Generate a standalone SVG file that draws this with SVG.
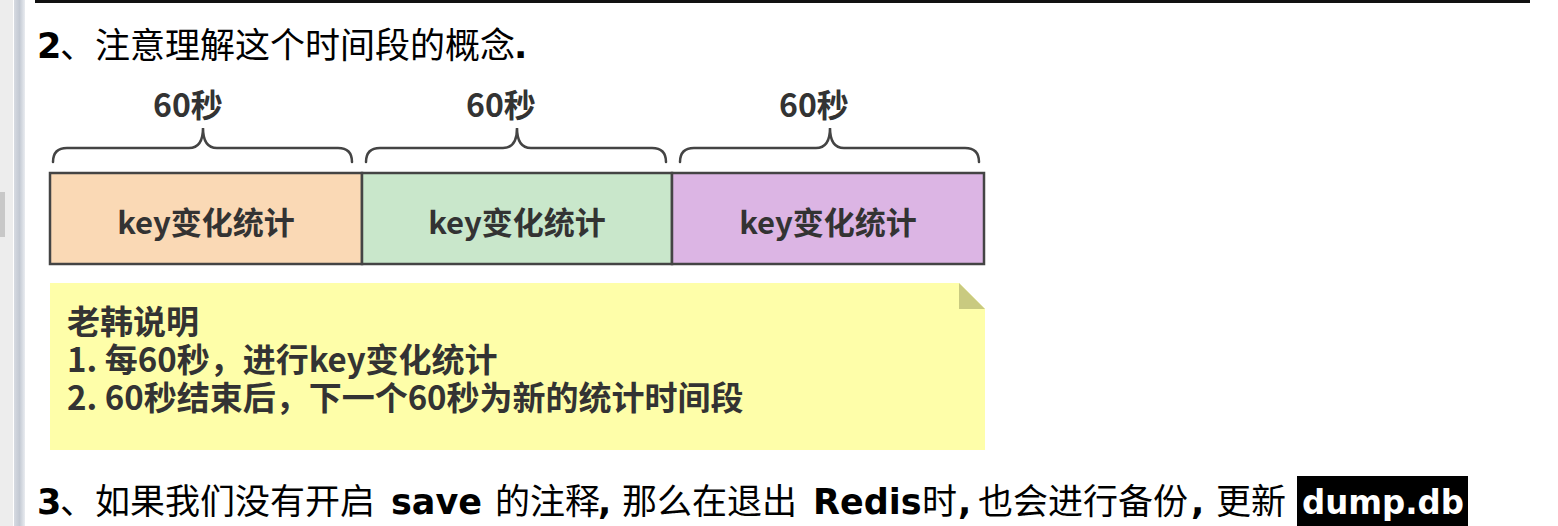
<svg xmlns="http://www.w3.org/2000/svg" width="1558" height="526" viewBox="0 0 1558 526">
<defs>
<linearGradient id="side" x1="0" x2="1" y1="0" y2="0">
<stop offset="0" stop-color="#d6dae1"/>
<stop offset="0.5" stop-color="#c3c9d3"/>
<stop offset="1" stop-color="#e9ecf0"/>
</linearGradient>
<style>
.cj{font-family:"Noto Sans CJK SC","Noto Sans",sans-serif;}
.lb{font-family:"DejaVu Sans","Noto Sans CJK SC",sans-serif;font-weight:700;}
.big{font-size:35px;fill:#000;}
.box{stroke:#444;stroke-width:2.5;}
.lbl{font-family:"Noto Sans CJK SC",sans-serif;font-weight:700;fill:#333;}
.brace{fill:none;stroke:#444;stroke-width:2.5;stroke-linecap:round;}
</style>
</defs>
<rect width="1558" height="526" fill="#ffffff"/>
<rect x="0" y="0" width="13" height="526" fill="#ededed"/>
<rect x="0" y="192" width="5" height="45" fill="#c8c8c8"/>
<rect x="14" y="0" width="11" height="526" fill="url(#side)"/>
<rect x="35" y="0" width="1495" height="3" fill="#111"/>

<g id="title">
<text class="lb big" x="37" y="58" font-size="34">2</text>
<text class="cj big" x="60" y="58" font-size="34">、注意理解这个时间段的概念</text>
<text class="lb big" x="514" y="58" font-size="34">.</text>
</g>

<g id="labels">
<text class="lbl" x="188" y="117" font-size="32" text-anchor="middle">60秒</text>
<text class="lbl" x="501" y="117" font-size="32" text-anchor="middle">60秒</text>
<text class="lbl" x="814" y="117" font-size="32" text-anchor="middle">60秒</text>
</g>

<g id="braces">
<path class="brace" d="M53,162 Q53,148 67,148 L189,148 Q203,148 203,128 Q203,148 217,148 L338,148 Q352,148 352,162"/>
<path class="brace" d="M366,162 Q366,148 380,148 L503,148 Q517,148 517,128 Q517,148 531,148 L652,148 Q666,148 666,162"/>
<path class="brace" d="M680,162 Q680,148 694,148 L816,148 Q830,148 830,128 Q830,148 844,148 L965,148 Q979,148 979,162"/>
</g>

<g id="box1">
<rect class="box" x="50" y="173" width="312" height="91" fill="#fad9b5"/>
<text class="lbl" x="206" y="234" font-size="31" text-anchor="middle">key变化统计</text>
</g>
<g id="box2">
<rect class="box" x="362" y="173" width="310" height="91" fill="#c9e7cb"/>
<text class="lbl" x="517" y="234" font-size="31" text-anchor="middle">key变化统计</text>
</g>
<g id="box3">
<rect class="box" x="672" y="173" width="312" height="91" fill="#dcb5e4"/>
<text class="lbl" x="828" y="234" font-size="31" text-anchor="middle">key变化统计</text>
</g>

<g id="note">
<path d="M50,283 L959,283 L985,309 L985,450 L50,450 Z" fill="#fefea9"/>
<path d="M959,283 L959,309 L985,309 Z" fill="#c9ca80"/>
<text class="lbl" font-size="33"><tspan x="67" y="334">老韩说明</tspan><tspan x="67" y="372">1. 每60秒，进行key变化统计</tspan><tspan x="67" y="410">2. 60秒结束后，下一个60秒为新的统计时间段</tspan></text>
</g>

<g id="footer">
<text class="lb big" x="37" y="514" font-size="34">3</text>
<text class="cj big" x="60" y="514">、如果我们没有开启</text>
<text class="lb big" x="391" y="514">save</text>
<text class="cj big" x="495" y="514">的注释</text>
<text class="lb big" x="598" y="514">,</text>
<text class="cj big" x="622" y="514">那么在退出</text>
<text class="lb big" x="813" y="514">Redis</text>
<text class="cj big" x="922" y="514">时</text>
<text class="lb big" x="958" y="514">,</text>
<text class="cj big" x="978" y="514">也会进行备份</text>
<text class="lb big" x="1191" y="514">,</text>
<text class="cj big" x="1216" y="514">更新</text>
<rect x="1297" y="476" width="171" height="50" fill="#000"/>
<text class="lb" x="1302" y="514" font-size="33" fill="#fff" textLength="162" lengthAdjust="spacingAndGlyphs">dump.db</text>
</g>
</svg>
